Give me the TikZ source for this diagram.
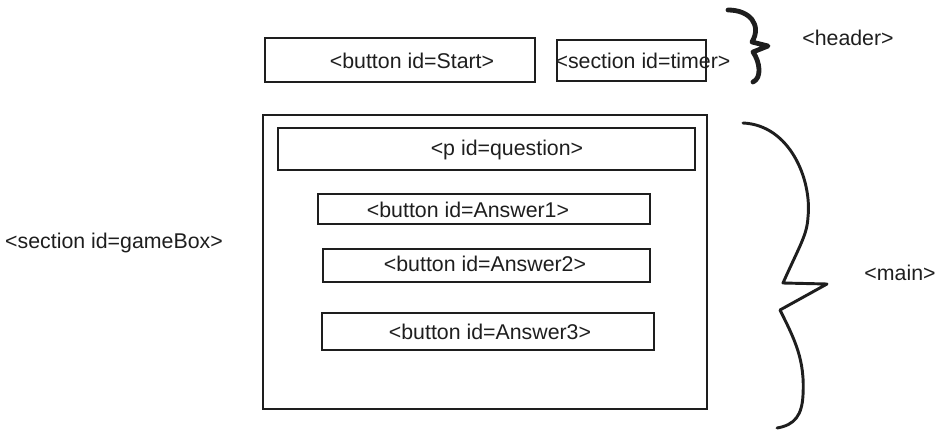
\documentclass[tikz,border=0pt]{standalone}
\usepackage{fontspec}
\setmainfont{Liberation Sans}
\usepackage{tikz}
\usetikzlibrary{positioning}
\usetikzlibrary{fit}
\definecolor{ink}{RGB}{30,30,30}

\begin{document}
\begin{tikzpicture}[x=0.75pt, y=-0.75pt,
  box/.style={draw=ink, line width=1.1pt, inner sep=0pt},
  lbl/.style={font=\fontsize{16}{18}\selectfont, text=ink, inner sep=0pt},
  brace/.style={draw=ink, line width=#1, line cap=round, line join=round}]
\useasboundingbox (0,0) rectangle (950,439);

% header row
\node [box, fit={(265,38) (535,82)}] (start) {};
\node [lbl] (startlbl) at (412,61) {<button id=Start>};
\node [box, fit={(557,40) (706,81)}] (timer) {};
\node [lbl] (timerlbl) at (643,61) {<section id=timer>};

% game box
\node [box, fit={(263,115) (707,409)}] (gamebox) {};
\node [box, fit={(278,128) (695,170)}] (question) {};
\node [lbl] (questionlbl) at (507,150) {<p id=question>};
\node [box, fit={(318,194) (650,224)}] (ans1) {};
\node [lbl] (ans1lbl) at (468,210) {<button id=Answer1>};
\node [box, fit={(323,249) (650,282)}] (ans2) {};
\node [lbl] (ans2lbl) at (485,264) {<button id=Answer2>};
\node [box, fit={(322,313) (654,350)}] (ans3) {};
\node [lbl] (ans3lbl) at (490,332) {<button id=Answer3>};

\node [lbl] (gameboxlbl) at (114,243) {<section id=gameBox>};

% braces
\draw [brace=3.6pt] (728,10) .. controls (750,10) and (762,25) .. (752,42) -- (768,46) -- (753,52) .. controls (760,62) and (762,78) .. (753,82);
\node [lbl] (headerlbl) at (848,38) {<header>};

\draw [brace=2.2pt] (743,123) .. controls (790,125) and (812,180) .. (808,217) .. controls (807,235) and (800,245) .. (783,283) -- (827,284) -- (780,310) .. controls (795,340) and (805,360) .. (803,395) .. controls (802,415) and (795,425) .. (777,428);
\node [lbl] (mainlbl) at (900,273) {<main>};

\end{tikzpicture}
\end{document}
